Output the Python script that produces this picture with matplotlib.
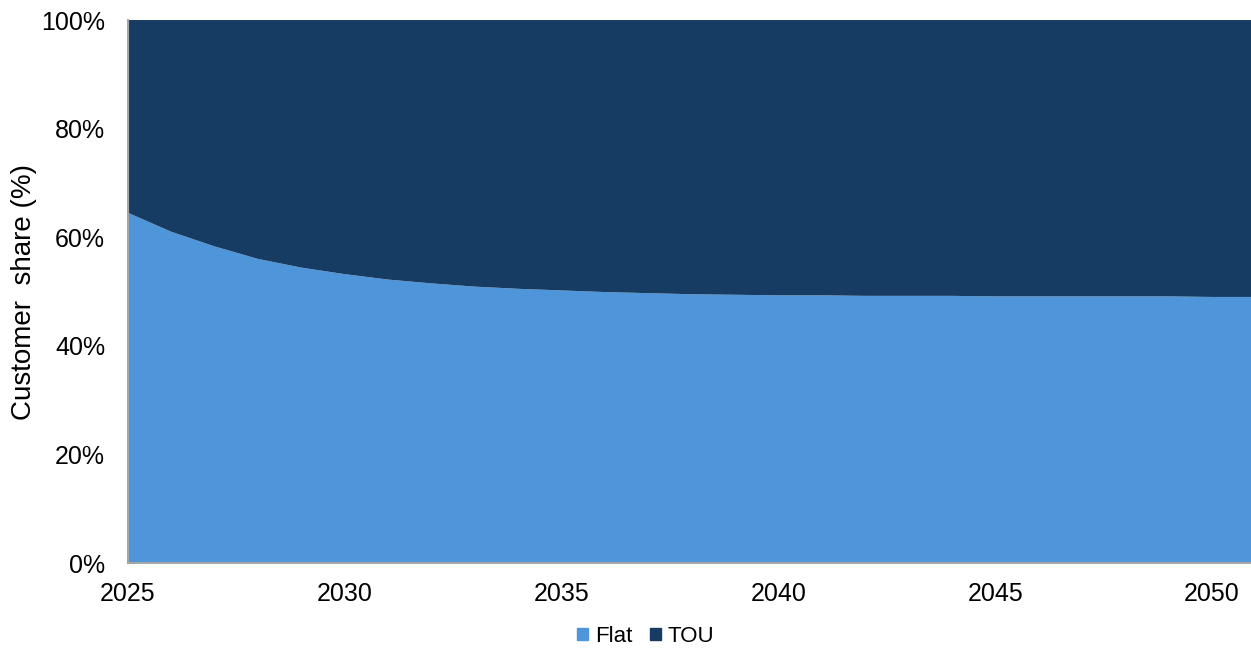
import matplotlib.pyplot as plt
from matplotlib.ticker import PercentFormatter
from matplotlib.patches import Patch

plt.rcParams['font.family'] = ['Liberation Sans', 'DejaVu Sans']

years = list(range(2025, 2052))
flat = [64.5, 61.0, 58.3, 56.0, 54.4, 53.2, 52.2, 51.5, 50.9, 50.5,
        50.2, 49.9, 49.7, 49.5, 49.4, 49.3, 49.3, 49.2, 49.2, 49.2,
        49.1, 49.1, 49.1, 49.1, 49.1, 49.0, 49.0]
tou = [100 - v for v in flat]

series_names = ['Flat', 'TOU']
colors = ['#4F95D9', '#173C63']
xticks = [2025, 2030, 2035, 2040, 2045, 2050]

fig = plt.figure(figsize=(12.51, 6.5), dpi=100)
ax = fig.add_axes([0.1023, 0.1338, 0.8977, 0.8354])

ax.stackplot(years, flat, tou, colors=colors, linewidth=0)

ax.set_xlim(2025, 2050.9)
ax.set_ylim(0, 100)
ax.set_xticks(xticks)
ax.set_yticks(range(0, 101, 20))
ax.yaxis.set_major_formatter(PercentFormatter(decimals=0))
ax.tick_params(length=0, labelsize=18)
ax.tick_params(axis='y', pad=16.5)
ax.tick_params(axis='x', pad=14)

for s in ['top', 'right']:
    ax.spines[s].set_visible(False)
for s in ['left', 'bottom']:
    ax.spines[s].set_color('#A6A6A6')
    ax.spines[s].set_linewidth(1.5)
    ax.spines[s].set_zorder(5)

ax.set_ylabel('Customer  share (%)', fontsize=20, labelpad=3)

handles = [Patch(color=c, label=n) for c, n in zip(colors, series_names)]
fig.legend(handles=handles, loc='center', bbox_to_anchor=(0.516, 0.021),
           ncol=2, frameon=False, fontsize=16, handlelength=0.5,
           handleheight=0.5, handletextpad=0.3, columnspacing=0.8)

fig.savefig('out.png', dpi=100)
